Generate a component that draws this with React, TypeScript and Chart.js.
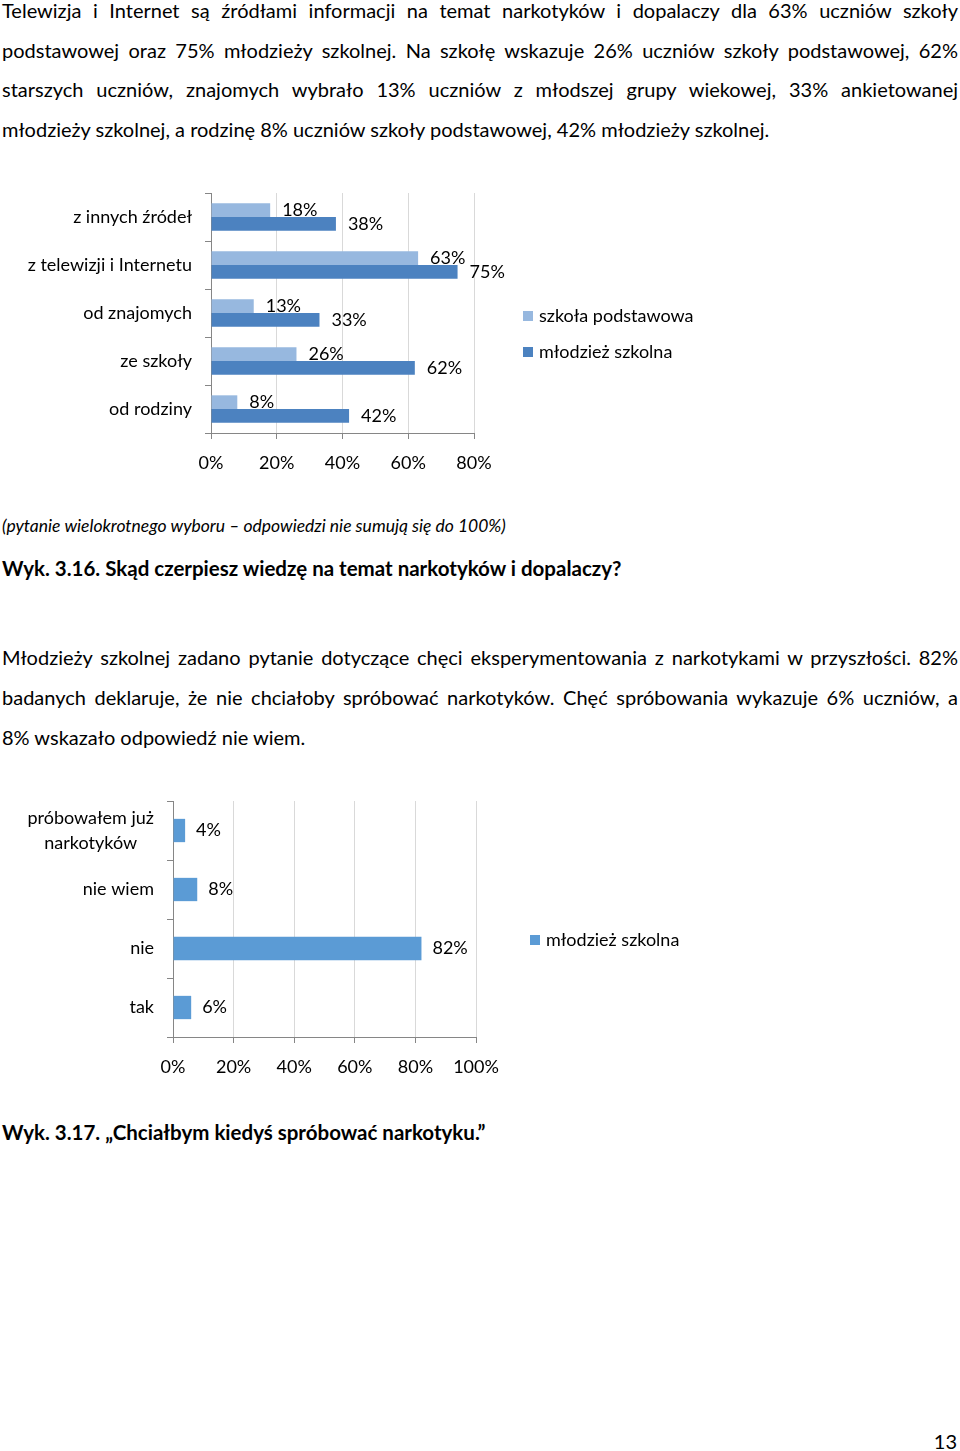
import React, { useEffect, useRef } from "react";
import { Chart, registerables } from "chart.js";

Chart.register(...registerables);

// ---- Chart 3.16 data ----
const sourceCategories = [
  "z innych źródeł",
  "z telewizji i Internetu",
  "od znajomych",
  "ze szkoły",
  "od rodziny",
];
const primarySchoolValues = [18, 63, 13, 26, 8];
const youthValues = [38, 75, 33, 62, 42];
const sourceSeriesNames = ["szkoła podstawowa", "młodzież szkolna"];
const sourceAxisMax = 80;

// ---- Chart 3.17 data ----
const wishCategories: (string | string[])[] = [
  ["próbowałem już", "narkotyków"],
  "nie wiem",
  "nie",
  "tak",
];
const wishValues = [4, 8, 82, 6];
const wishSeriesName = "młodzież szkolna";
const wishAxisMax = 100;

const FONT = "Lato";
const CHART_FONT_SIZE = 18;
const LIGHT = "#97b8df";
const DARK = "#4c82c0";
const SINGLE = "#5b9bd5";
const AXIS = "#868686";
const GRID = "#d9d9d9";

const valueLabels = (offset: number, size: number) => ({
  id: "valueLabels",
  afterDatasetsDraw(chart: any) {
    const ctx = chart.ctx;
    ctx.save();
    ctx.font = `${size}px ${FONT}`;
    ctx.fillStyle = "#000";
    ctx.textAlign = "left";
    ctx.textBaseline = "middle";
    chart.data.datasets.forEach((ds: any, di: number) => {
      const meta = chart.getDatasetMeta(di);
      meta.data.forEach((el: any, i: number) => {
        ctx.fillText(`${ds.data[i]}%`, el.x + offset, el.y);
      });
    });
    ctx.restore();
  },
});

const boxLegend = (x: number, y: number, gap: number, size: number) => ({
  id: "boxLegend",
  afterDraw(chart: any) {
    const ctx = chart.ctx;
    ctx.save();
    ctx.font = `${size}px ${FONT}`;
    ctx.textBaseline = "middle";
    ctx.textAlign = "left";
    chart.data.datasets.forEach((ds: any, i: number) => {
      const cy = y + i * gap;
      ctx.fillStyle = ds.backgroundColor;
      ctx.fillRect(x, cy - 5, 10, 10);
      ctx.fillStyle = "#000";
      ctx.fillText(ds.label, x + 16, cy);
    });
    ctx.restore();
  },
});

const customYLabels = (size: number, gapToAxis: number, lineGap: number) => ({
  id: "customYLabels",
  afterDraw(chart: any) {
    const ctx = chart.ctx;
    const scale = chart.scales.y;
    const right = chart.chartArea.left - gapToAxis;
    ctx.save();
    ctx.font = `${size}px ${FONT}`;
    ctx.fillStyle = "#000";
    ctx.textBaseline = "middle";
    (chart.data.labels as any[]).forEach((lab, i) => {
      const y = scale.getPixelForTick(i);
      if (Array.isArray(lab)) {
        const w = Math.max(...lab.map((l: string) => ctx.measureText(l).width));
        const cx = right - w / 2;
        ctx.textAlign = "center";
        lab.forEach((l: string, j: number) => {
          ctx.fillText(l, cx, y + (j - (lab.length - 1) / 2) * lineGap);
        });
      } else {
        ctx.textAlign = "right";
        ctx.fillText(lab, right, y);
      }
    });
    ctx.restore();
  },
});

function SourceChart() {
  const ref = useRef<HTMLCanvasElement>(null);
  useEffect(() => {
    const chart = new Chart(ref.current!, {
      type: "bar",
      data: {
        labels: sourceCategories,
        datasets: [
          {
            label: sourceSeriesNames[0],
            data: primarySchoolValues,
            backgroundColor: LIGHT,
            categoryPercentage: 0.57,
            barPercentage: 1,
          },
          {
            label: sourceSeriesNames[1],
            data: youthValues,
            backgroundColor: DARK,
            categoryPercentage: 0.57,
            barPercentage: 1,
          },
        ],
      },
      options: {
        indexAxis: "y",
        animation: false,
        responsive: false,
        devicePixelRatio: 1,
        layout: { padding: { left: 0, top: 13, right: 246, bottom: 0 } },
        plugins: { legend: { display: false }, tooltip: { enabled: false } },
        scales: {
          x: {
            min: 0,
            max: sourceAxisMax,
            ticks: {
              stepSize: 20,
              callback: (v: any) => `${v}%`,
              font: { family: FONT, size: CHART_FONT_SIZE },
              color: "#000",
              padding: 13,
            },
            grid: { color: GRID, tickColor: AXIS, tickLength: 6 },
            border: { color: AXIS },
            afterFit: (s: any) => {
              s.height = 47;
            },
          },
          y: {
            grid: { drawOnChartArea: false, tickColor: AXIS, tickLength: 6, offset: true },
            border: { color: AXIS },
            ticks: { font: { family: FONT, size: CHART_FONT_SIZE }, color: "#000", padding: 13 },
            afterFit: (s: any) => {
              s.width = 211;
              s.paddingTop = 0;
              s.paddingBottom = 0;
            },
          },
        },
      },
      plugins: [valueLabels(12, CHART_FONT_SIZE), boxLegend(523, 136, 36, CHART_FONT_SIZE)],
    } as any);
    return () => chart.destroy();
  }, []);
  return (
    <canvas
      ref={ref}
      width={720}
      height={300}
      style={{ position: "absolute", left: 0, top: 180, width: 720, height: 300 }}
    />
  );
}

function WishChart() {
  const ref = useRef<HTMLCanvasElement>(null);
  useEffect(() => {
    const chart = new Chart(ref.current!, {
      type: "bar",
      data: {
        labels: wishCategories,
        datasets: [
          {
            label: wishSeriesName,
            data: wishValues,
            backgroundColor: SINGLE,
            categoryPercentage: 0.395,
            barPercentage: 1,
          },
        ],
      },
      options: {
        indexAxis: "y",
        animation: false,
        responsive: false,
        devicePixelRatio: 1,
        layout: { padding: { left: 0, top: 11, right: 244, bottom: 0 } },
        plugins: { legend: { display: false }, tooltip: { enabled: false } },
        scales: {
          x: {
            min: 0,
            max: wishAxisMax,
            ticks: {
              stepSize: 20,
              callback: (v: any) => `${v}%`,
              font: { family: FONT, size: CHART_FONT_SIZE },
              color: "#000",
              padding: 13,
            },
            grid: { color: GRID, tickColor: AXIS, tickLength: 6 },
            border: { color: AXIS },
            afterFit: (s: any) => {
              s.height = 53;
            },
          },
          y: {
            grid: { drawOnChartArea: false, tickColor: AXIS, tickLength: 6, offset: true },
            border: { color: AXIS },
            ticks: { display: false },
            afterFit: (s: any) => {
              s.width = 173;
              s.paddingTop = 0;
              s.paddingBottom = 0;
            },
          },
        },
      },
      plugins: [
        valueLabels(11, CHART_FONT_SIZE),
        customYLabels(CHART_FONT_SIZE, 19, 25),
        boxLegend(530, 150, 36, CHART_FONT_SIZE),
      ],
    } as any);
    return () => chart.destroy();
  }, []);
  return (
    <canvas
      ref={ref}
      width={720}
      height={300}
      style={{ position: "absolute", left: 0, top: 790, width: 720, height: 300 }}
    />
  );
}

const para1 = [
  "Telewizja i Internet są źródłami informacji na temat narkotyków i dopalaczy dla 63% uczniów szkoły",
  "podstawowej oraz 75% młodzieży szkolnej. Na szkołę wskazuje 26% uczniów szkoły podstawowej, 62%",
  "starszych uczniów, znajomych wybrało 13% uczniów z młodszej grupy wiekowej, 33% ankietowanej",
  "młodzieży szkolnej, a rodzinę 8% uczniów szkoły podstawowej, 42% młodzieży szkolnej.",
];
const para1Centers = [10, 49.5, 89, 129];
const para2 = [
  "Młodzieży szkolnej zadano pytanie dotyczące chęci eksperymentowania z narkotykami w przyszłości. 82%",
  "badanych deklaruje, że nie chciałoby spróbować narkotyków. Chęć spróbowania  wykazuje 6% uczniów, a",
  "8% wskazało odpowiedź nie wiem.",
];
const para2Centers = [657, 697, 737];

function Line({ text, center, justify, size = 20, weight = 400, italic = false }: any) {
  return (
    <div
      style={{
        position: "absolute",
        left: 2,
        width: 956,
        top: center - 20,
        height: 40,
        lineHeight: "40px",
        fontSize: size,
        fontWeight: weight,
        fontStyle: italic ? "italic" : "normal",
        textAlign: justify ? "justify" : "left",
        textAlignLast: justify ? "justify" : "left",
        whiteSpace: "nowrap",
        color: "#000",
      } as any}
    >
      {text}
    </div>
  );
}

export default function App() {
  useEffect(() => {
    document.body.style.margin = "0";
  }, []);
  return (
    <div
      style={{
        position: "relative",
        width: 960,
        height: 1451,
        fontFamily: FONT,
        background: "#fff",
        overflow: "hidden",
      }}
    >
      {para1.map((t, i) => (
        <Line key={"a" + i} text={t} center={para1Centers[i]} justify={i < para1.length - 1} />
      ))}
      <SourceChart />
      <Line text="(pytanie wielokrotnego wyboru – odpowiedzi nie sumują się do 100%)" center={526} size={17.5} italic />
      <Line text="Wyk. 3.16. Skąd czerpiesz wiedzę na temat narkotyków i dopalaczy?" center={568} size={20.5} weight={700} />
      {para2.map((t, i) => (
        <Line key={"b" + i} text={t} center={para2Centers[i]} justify={i < para2.length - 1} />
      ))}
      <WishChart />
      <Line text="Wyk. 3.17. „Chciałbym kiedyś spróbować narkotyku.”" center={1132} size={20.5} weight={700} />
      <div
        style={{
          position: "absolute",
          right: 3,
          top: 1441 - 20,
          lineHeight: "40px",
          fontSize: 20,
        }}
      >
        13
      </div>
    </div>
  );
}
